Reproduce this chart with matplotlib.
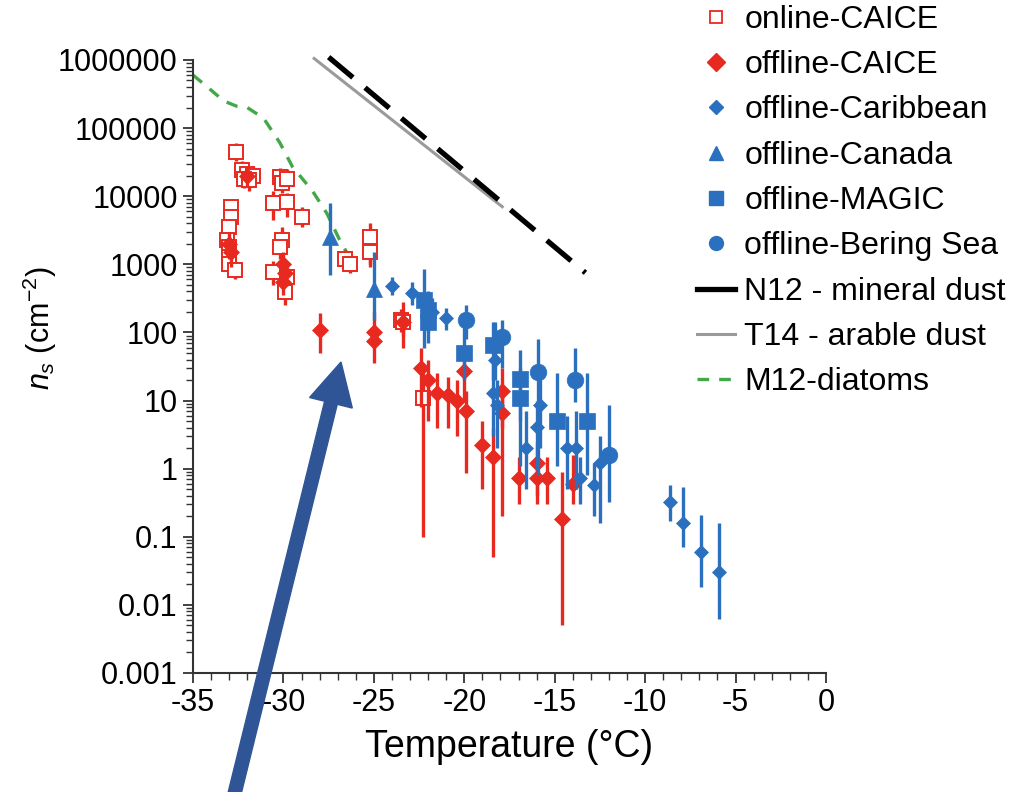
import matplotlib.pyplot as plt
import numpy as np
from matplotlib.lines import Line2D
from matplotlib.patches import FancyArrow
from matplotlib.ticker import LogLocator, MultipleLocator, NullFormatter

plt.rcParams['font.family'] = ['Liberation Sans', 'DejaVu Sans']
plt.rcParams['mathtext.fontset'] = 'custom'
plt.rcParams['mathtext.rm'] = 'Liberation Sans'
plt.rcParams['mathtext.it'] = 'Liberation Sans:italic'
plt.rcParams['axes.unicode_minus'] = False

RED = '#e8291f'
BLUE = '#2b70bf'

# online-CAICE (open squares): temperature, ns, error bar low / high
online_t = [-32.9, -32.9, -33.0, -33.1, -33.0, -33.0, -33.0, -32.7,
            -32.6, -32.3, -32.0, -31.7, -32.2, -31.9,
            -30.2, -30.1, -29.8, -30.6, -29.8, -29.0, -30.1, -30.2, -30.6, -29.9, -29.8,
            -26.6, -26.3, -25.2, -25.2, -23.5, -23.4, -22.3]
online_ns = [6900, 4900, 3500, 2300, 1800, 1300, 1000, 830,
             45000, 24000, 21000, 20000, 18000, 17000,
             19000, 15500, 18000, 7900, 8100, 5000, 2300, 1800, 770, 390, 650,
             1200, 1000, 2500, 1500, 150, 140, 11]
online_lo = [5000, 3500, 2500, 1600, 1200, 900, 700, 600,
             33000, 17000, 15000, 14000, 13000, 12000,
             13000, 11000, 13000, 4500, 5000, 3500, 1300, 1200, 500, 250, 450,
             900, 750, 1000, 900, 100, 90, 0.1]
online_hi = [9000, 6500, 4800, 3200, 2500, 1800, 1400, 1100,
             60000, 33000, 29000, 28000, 25000, 24000,
             26000, 21000, 25000, 12000, 11000, 7000, 3500, 2600, 1100, 600, 900,
             1600, 1300, 4000, 2200, 220, 200, 25]

# offline-CAICE (filled diamonds)
caice_t = [-33.0, -32.9, -32.0, -30.0, -29.9, -30.0, -28.0, -25.0, -25.0, -23.4,
           -22.4, -22.0, -21.5, -20.9, -20.4, -20.0, -19.9, -19.0, -18.4, -17.9,
           -17.9, -17.0, -16.0, -16.0, -15.4, -14.6, -14.0]
caice_ns = [2000, 1500, 20000, 1000, 750, 550, 110, 100, 75, 140,
            30, 20, 13, 12, 10, 27, 7, 2.2, 1.5, 14,
            6.5, 0.72, 1.2, 0.72, 0.72, 0.18, 0.6]
caice_lo = [1200, 900, 14000, 700, 500, 350, 50, 60, 35, 60,
            8, 5, 4, 4, 3, 10, 0.87, 0.5, 0.05, 4,
            0.2, 0.3, 0.4, 0.3, 0.3, 0.005, 0.3]
caice_hi = [3000, 2300, 28000, 1500, 1100, 800, 190, 200, 120, 280,
            60, 40, 25, 22, 20, 60, 14, 5, 4, 30,
            12, 1.5, 2.5, 1.5, 1.5, 0.9, 1.6]

# offline-Caribbean (small filled diamonds)
carib_t = [-24.0, -22.9, -21.8, -21.0, -18.3, -18.4, -18.2, -15.8, -16.0, -16.6,
           -14.3, -13.8, -13.6, -12.8, -12.5, -8.6, -7.9, -6.9, -5.9]
carib_ns = [480, 380, 200, 160, 40, 13, 8.5, 8.5, 4.1, 2.0,
            2.0, 2.0, 0.74, 0.57, 1.2, 0.32, 0.16, 0.06, 0.03]
carib_lo = [350, 250, 120, 110, 20, 3, 2, 2, 1, 0.5,
            0.5, 0.5, 0.3, 0.2, 0.16, 0.17, 0.07, 0.018, 0.0063]
carib_hi = [650, 550, 320, 230, 140, 40, 20, 25, 10, 7,
            6, 7, 1.5, 1.2, 3, 0.58, 0.53, 0.21, 0.16]

# offline-Canada (triangles)
canada_t = [-27.4, -25.0]
canada_ns = [2500, 430]
canada_lo = [700, 150]
canada_hi = [8000, 1500]

# offline-MAGIC (squares)
magic_t = [-22.2, -22.0, -22.0, -20.0, -18.4, -16.9, -16.9, -14.9, -13.2]
magic_ns = [300, 210, 140, 50, 65, 21, 11, 5, 5]
magic_lo = [60, 100, 70, 20, 20, 5, 1.1, 1.1, 0.8]
magic_hi = [850, 400, 250, 120, 140, 55, 30, 25, 25]

# offline-Bering Sea (circles)
bering_t = [-19.9, -17.9, -15.9, -13.9, -12.0]
bering_ns = [150, 85, 26, 20, 1.6]
bering_lo = [80, 30, 0.8, 9.6, 0.32]
bering_hi = [250, 150, 80, 60, 8.7]

# parameterisations
n12_t = [-27.5, -13.3]
n12_ns = [1.1e6, 750]
t14_t = [-28.3, -17.9]
t14_ns = [1.05e6, 7000]
m12_t = [-35.0, -34.2, -33.3, -32.6, -32.0, -31.1, -30.2, -29.5, -28.4, -27.6, -26.9, -26.2]
m12_ns = [600000, 400000, 250000, 210000, 200000, 140000, 61000, 27000, 12000, 5600, 2300, 1070]

ytick_vals = [1e-3, 1e-2, 1e-1, 1, 10, 100, 1000, 1e4, 1e5, 1e6]
ytick_labels = ['0.001', '0.01', '0.1', '1', '10', '100', '1000',
                '10000', '100000', '1000000']


def draw_series(ax, t, ns, lo, hi, color, marker, ms, filled=True, z=3):
    ns = np.asarray(ns, dtype=float)
    yerr = [ns - np.asarray(lo, dtype=float), np.asarray(hi, dtype=float) - ns]
    ax.errorbar(t, ns, yerr=yerr, fmt=marker, color=color, ms=ms,
                mfc=color if filled else 'white', mec=color,
                mew=1.4 if not filled else 0.5, elinewidth=2.4, capsize=0,
                zorder=z, clip_on=False)


fig = plt.figure(figsize=(10.11, 7.92), dpi=100)
ax = fig.add_axes([0.1909, 0.1503, 0.6261, 0.7740])

ax.plot(m12_t, m12_ns, color='#43a847', lw=2.4, dashes=(3.5, 3), zorder=2)
ax.plot(t14_t, t14_ns, color='#9a9a9a', lw=2.2, zorder=2, clip_on=False)
ax.plot(n12_t, n12_ns, color='black', lw=3.8, dashes=(6, 3), zorder=2, clip_on=False)

draw_series(ax, online_t, online_ns, online_lo, online_hi, RED, 's', 10, filled=False, z=3)
draw_series(ax, caice_t, caice_ns, caice_lo, caice_hi, RED, 'D', 8.5, z=4)
draw_series(ax, carib_t, carib_ns, carib_lo, carib_hi, BLUE, 'D', 7.5, z=5)
draw_series(ax, canada_t, canada_ns, canada_lo, canada_hi, BLUE, '^', 11, z=6)
draw_series(ax, magic_t, magic_ns, magic_lo, magic_hi, BLUE, 's', 11, z=7)
draw_series(ax, bering_t, bering_ns, bering_lo, bering_hi, BLUE, 'o', 12, z=8)

ax.set_yscale('log')
ax.set_ylim(1e-3, 1e6)
ax.set_xlim(-35, 0)
ax.set_yticks(ytick_vals)
ax.set_yticklabels(ytick_labels)
ax.yaxis.set_minor_locator(LogLocator(base=10, subs=np.arange(2, 10)))
ax.yaxis.set_minor_formatter(NullFormatter())
ax.set_xticks(np.arange(-35, 1, 5))
ax.xaxis.set_minor_locator(MultipleLocator(1))

for side in ['top', 'right']:
    ax.spines[side].set_visible(False)
for side in ['left', 'bottom']:
    ax.spines[side].set_linewidth(1.5)
    ax.spines[side].set_color('#333333')
ax.tick_params(which='major', direction='out', length=7, width=1.3,
               color='#333333', labelsize=22, pad=4)
ax.tick_params(which='minor', direction='out', length=5, width=1.0, color='#333333')

ax.set_xlabel('Temperature (°C)', fontsize=27, labelpad=8)
ax.set_ylabel(r'$n_s$ (cm$^{-2}$)', fontsize=22)
ax.yaxis.set_label_coords(-0.212, 0.563)

handles = [
    Line2D([], [], ls='none', marker='s', ms=9, mfc='white', mec=RED, mew=1.3),
    Line2D([], [], ls='none', marker='D', ms=9, color=RED),
    Line2D([], [], ls='none', marker='D', ms=7.5, color=BLUE),
    Line2D([], [], ls='none', marker='^', ms=10, color=BLUE),
    Line2D([], [], ls='none', marker='s', ms=9.5, color=BLUE),
    Line2D([], [], ls='none', marker='o', ms=10, color=BLUE),
    Line2D([], [], color='black', lw=3.8),
    Line2D([], [], color='#9a9a9a', lw=2.2),
    Line2D([], [], color='#43a847', lw=2.4, dashes=(3.5, 3)),
]
labels = ['online-CAICE', 'offline-CAICE', 'offline-Caribbean', 'offline-Canada',
          'offline-MAGIC', 'offline-Bering Sea', 'N12 - mineral dust',
          'T14 - arable dust', 'M12-diatoms']
fig.legend(handles, labels, loc='upper left', bbox_to_anchor=(0.689, 0.994),
           bbox_transform=fig.transFigure, frameon=False, fontsize=23,
           labelspacing=0.48, handlelength=1.2, handletextpad=0.3,
           borderpad=0, borderaxespad=0)

# big pointer arrow drawn on top of the figure
arrow = FancyArrow(2.30, -0.2, 1.11, 4.50, width=0.13, head_width=0.44,
                   head_length=0.42, length_includes_head=True,
                   color='#2f5597', transform=fig.dpi_scale_trans, zorder=20)
fig.add_artist(arrow)

fig.savefig('out.png', dpi=100)
